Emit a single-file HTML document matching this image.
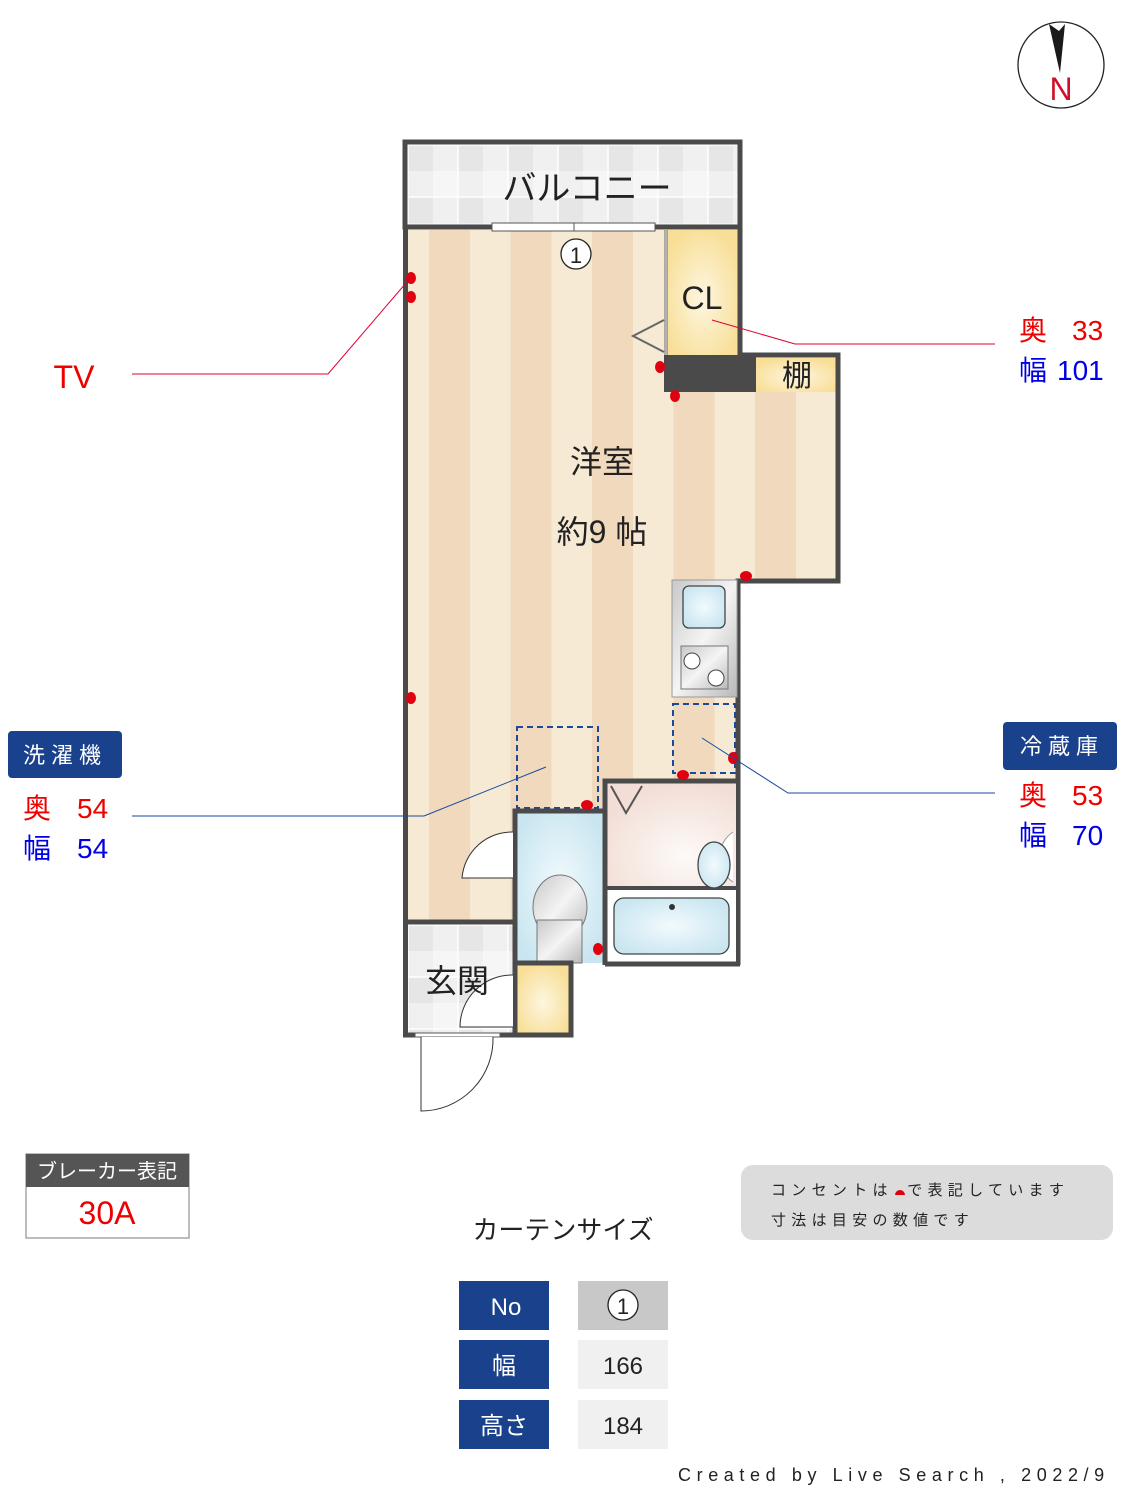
<!DOCTYPE html>
<html><head><meta charset="utf-8"><style>
html,body{margin:0;padding:0;background:#fff}
svg{display:block}
text{font-family:"Liberation Sans","Noto Sans CJK JP",sans-serif}
</style></head><body>
<svg width="1125" height="1500" viewBox="0 0 1125 1500" xmlns="http://www.w3.org/2000/svg">
<defs>
<pattern id="stripe" x="429" y="0" width="81.5" height="10" patternUnits="userSpaceOnUse">
<rect width="81.5" height="10" fill="#f6ead5"/><rect width="41" height="10" fill="#f0d9bd"/>
</pattern>
<pattern id="tile" x="408" y="145" width="50" height="52" patternUnits="userSpaceOnUse">
<rect width="50" height="52" fill="#f0f0f0"/>
<rect x="0" y="0" width="25" height="26" fill="#e6e6e6"/>
<rect x="25" y="26" width="25" height="26" fill="#f6f6f6"/>
<rect x="0" y="0" width="50" height="52" fill="none" stroke="#fff" stroke-width="1.5"/>
</pattern>
<radialGradient id="yel" cx="0.5" cy="0.55" r="0.6"><stop offset="0" stop-color="#fdf6e0"/><stop offset="1" stop-color="#f8de96"/></radialGradient>
<radialGradient id="blu" cx="0.5" cy="0.5" r="0.6"><stop offset="0" stop-color="#f2fafd"/><stop offset="1" stop-color="#c8e5f0"/></radialGradient>
<radialGradient id="pink" cx="0.6" cy="0.7" r="0.7"><stop offset="0" stop-color="#fdfaf8"/><stop offset="1" stop-color="#f2ded6"/></radialGradient>
<linearGradient id="steel" x1="0" y1="0" x2="1" y2="1"><stop offset="0" stop-color="#c8c8c8"/><stop offset="0.5" stop-color="#f4f4f4"/><stop offset="1" stop-color="#b8b8b8"/></linearGradient>
</defs>

<circle cx="1061" cy="65" r="43" fill="#fff" stroke="#222" stroke-width="1.3"/>
<path d="M1049 24 L1059 31 L1065 24 L1060 73 Z" fill="#1a1a1a"/>
<text x="1061" y="100" font-size="32" fill="#d0102a" text-anchor="middle">N</text>

<rect x="405" y="142" width="335" height="85" fill="url(#tile)" stroke="#4a4a4a" stroke-width="5"/>
<text x="587" y="200" font-size="34" fill="#222" text-anchor="middle">バルコニー</text>

<rect x="408" y="230" width="258" height="692" fill="url(#stripe)"/>
<rect x="666" y="392" width="170" height="188" fill="url(#stripe)"/>
<rect x="666" y="580" width="72" height="200" fill="url(#stripe)"/>
<rect x="667" y="230" width="71" height="125" fill="url(#yel)"/>
<line x1="666" y1="230" x2="666" y2="355" stroke="#666" stroke-width="3"/>
<line x1="666" y1="230" x2="666" y2="355" stroke="#fff" stroke-width="1"/>
<path d="M664 320 L633 336 L664 352" fill="none" stroke="#666" stroke-width="2"/>
<text x="702" y="309" font-size="32" fill="#222" text-anchor="middle">CL</text>
<rect x="664" y="355" width="92" height="37" fill="#4a4a4a"/>
<rect x="756" y="358" width="80" height="34" fill="url(#yel)"/>
<text x="797" y="386" font-size="30" fill="#222" text-anchor="middle">棚</text>
<path d="M405.5 227 L405.5 1035" stroke="#4a4a4a" stroke-width="5"/>
<path d="M740 227 L740 355 L838 355 L838 581 L738 581 L738 965" fill="none" stroke="#4a4a4a" stroke-width="5"/>
<rect x="492" y="223" width="163" height="8" fill="#fff" stroke="#555" stroke-width="1"/>
<line x1="574" y1="223" x2="574" y2="231" stroke="#555"/>
<circle cx="576" cy="254" r="15" fill="#fff" stroke="#222" stroke-width="1.3"/>
<text x="576" y="263" font-size="22" fill="#222" text-anchor="middle">1</text>

<text x="602" y="473" font-size="32" fill="#222" text-anchor="middle">洋室</text>
<text x="602" y="543" font-size="32" fill="#222" text-anchor="middle">約9 帖</text>

<rect x="672" y="580" width="65" height="117" fill="url(#steel)" stroke="#999" stroke-width="1"/>
<rect x="683" y="586" width="42" height="42" rx="6" fill="url(#blu)" stroke="#444" stroke-width="1.3"/>
<rect x="681" y="646" width="47" height="43" fill="url(#steel)" stroke="#777"/>
<circle cx="692" cy="661" r="8" fill="#fff" stroke="#444"/>
<circle cx="716" cy="678" r="8" fill="#fff" stroke="#444"/>

<rect x="673" y="704" width="62" height="69" fill="none" stroke="#1a4a9c" stroke-width="2" stroke-dasharray="6,4"/>
<rect x="517" y="727" width="81" height="81" fill="none" stroke="#1a4a9c" stroke-width="2" stroke-dasharray="6,4"/>

<rect x="516" y="811" width="88" height="152" fill="url(#blu)"/>
<path d="M515 963 L515 811 L605 811" fill="none" stroke="#4a4a4a" stroke-width="5"/>
<ellipse cx="560" cy="907" rx="27" ry="32" fill="url(#steel)" stroke="#777"/>
<rect x="537" y="920" width="45" height="43" fill="url(#steel)" stroke="#777"/>
<path d="M513 832 A50 50 0 0 0 462 878 L513 878" fill="#fff" stroke="#333" stroke-width="1"/>

<rect x="607" y="783" width="129" height="104" fill="url(#pink)"/>
<rect x="607" y="887" width="129" height="76" fill="#fff"/>
<path d="M605 965 L605 781 L740 781" fill="none" stroke="#4a4a4a" stroke-width="5"/>
<line x1="606" y1="888" x2="738" y2="888" stroke="#4a4a4a" stroke-width="4"/>
<path d="M611 786 L626 813 L642 786" fill="none" stroke="#555" stroke-width="2"/>
<rect x="614" y="898" width="115" height="56" rx="10" fill="url(#blu)" stroke="#444" stroke-width="1.3"/>
<circle cx="672" cy="907" r="3" fill="#333"/>
<path d="M733 832 A30 30 0 0 0 733 882" fill="#fff" stroke="#999"/>
<ellipse cx="714" cy="865" rx="16" ry="23" fill="url(#blu)" stroke="#444" stroke-width="1.3"/>
<line x1="605" y1="964" x2="740" y2="964" stroke="#4a4a4a" stroke-width="5"/>

<rect x="408" y="925" width="105" height="108" fill="url(#tile)"/>
<line x1="405" y1="922" x2="517" y2="922" stroke="#4a4a4a" stroke-width="5"/>
<rect x="517" y="965" width="52" height="68" fill="url(#yel)"/>
<path d="M515 920 L515 1035 M515 963 L571 963 L571 1035 L403 1035" fill="none" stroke="#4a4a4a" stroke-width="5"/>
<path d="M513 975 A52 52 0 0 0 460 1027 L513 1027" fill="#fff" stroke="#333"/>
<text x="457" y="992" font-size="32" fill="#222" text-anchor="middle">玄関</text>
<rect x="415" y="1033" width="85" height="4" fill="#fff" stroke="#555"/>
<path d="M421 1037 L421 1111 A72 72 0 0 0 493 1037" fill="#fff" stroke="#333"/>

<g fill="#e00010">
<ellipse cx="411" cy="278" rx="5" ry="6"/><ellipse cx="411" cy="297" rx="5" ry="6"/>
<ellipse cx="411" cy="698" rx="5" ry="6"/>
<ellipse cx="660" cy="367" rx="5" ry="6"/><ellipse cx="675" cy="396" rx="5" ry="6"/>
<ellipse cx="746" cy="576" rx="6" ry="5"/>
<ellipse cx="733" cy="758" rx="5" ry="6"/><ellipse cx="683" cy="775" rx="6" ry="5"/>
<ellipse cx="587" cy="805" rx="6" ry="5"/><ellipse cx="598" cy="949" rx="5" ry="6"/>
</g>

<polyline points="132,374 328,374 406,283" fill="none" stroke="#e00030" stroke-width="1"/>
<polyline points="712,320 795,344 995,344" fill="none" stroke="#e00030" stroke-width="1"/>
<polyline points="132,816 424,816 546,767" fill="none" stroke="#1a4a9c" stroke-width="1"/>
<polyline points="702,738 788,793 995,793" fill="none" stroke="#1a4a9c" stroke-width="1"/>

<text x="74" y="388" font-size="32" fill="#e00" text-anchor="middle">TV</text>
<text x="1019" y="340" font-size="28" fill="#e00">奥</text><text x="1072" y="340" font-size="28" fill="#e00">33</text>
<text x="1019" y="380" font-size="28" fill="#0000e6">幅</text><text x="1057" y="380" font-size="28" fill="#0000e6">101</text>
<rect x="8" y="731" width="114" height="47" rx="4" fill="#1a428c"/>
<text x="65" y="763" font-size="22" fill="#fff" text-anchor="middle" letter-spacing="6">洗濯機</text>
<text x="23" y="818" font-size="28" fill="#e00">奥</text><text x="77" y="818" font-size="28" fill="#e00">54</text>
<text x="23" y="858" font-size="28" fill="#0000e6">幅</text><text x="77" y="858" font-size="28" fill="#0000e6">54</text>
<rect x="1003" y="722" width="114" height="48" rx="4" fill="#1a428c"/>
<text x="1062" y="754" font-size="22" fill="#fff" text-anchor="middle" letter-spacing="6">冷蔵庫</text>
<text x="1019" y="805" font-size="28" fill="#e00">奥</text><text x="1072" y="805" font-size="28" fill="#e00">53</text>
<text x="1019" y="845" font-size="28" fill="#0000e6">幅</text><text x="1072" y="845" font-size="28" fill="#0000e6">70</text>

<rect x="26" y="1154" width="163" height="84" fill="#fff" stroke="#999" stroke-width="1.3"/>
<rect x="26" y="1154" width="163" height="33" fill="#555"/>
<text x="107" y="1178" font-size="20" fill="#fff" text-anchor="middle">ブレーカー表記</text>
<text x="107" y="1224" font-size="32" fill="#e00" text-anchor="middle">30A</text>

<rect x="741" y="1165" width="372" height="75" rx="12" fill="#dcdcdc"/>
<text x="771" y="1195" font-size="15" fill="#222" letter-spacing="5.3">コンセントは<tspan fill="#dcdcdc">■</tspan>で表記しています</text>
<path d="M895 1195 A5 5 0 0 1 905 1195 Z" fill="#e00010"/>
<text x="771" y="1225" font-size="15" fill="#222" letter-spacing="5.3">寸法は目安の数値です</text>

<text x="563" y="1239" font-size="26" fill="#222" text-anchor="middle">カーテンサイズ</text>
<rect x="459" y="1281" width="90" height="49" fill="#1a428c"/>
<rect x="459" y="1340" width="90" height="49" fill="#1a428c"/>
<rect x="459" y="1400" width="90" height="49" fill="#1a428c"/>
<rect x="578" y="1281" width="90" height="49" fill="#c8c8c8"/>
<rect x="578" y="1340" width="90" height="49" fill="#f0f0f0"/>
<rect x="578" y="1400" width="90" height="49" fill="#f0f0f0"/>
<text x="506" y="1315" font-size="24" fill="#fff" text-anchor="middle">No</text>
<text x="504" y="1374" font-size="24" fill="#fff" text-anchor="middle">幅</text>
<text x="504" y="1434" font-size="24" fill="#fff" text-anchor="middle">高さ</text>
<circle cx="623" cy="1305" r="15" fill="#fff" stroke="#222" stroke-width="1.3"/>
<text x="623" y="1314" font-size="22" fill="#222" text-anchor="middle">1</text>
<text x="623" y="1374" font-size="24" fill="#222" text-anchor="middle">166</text>
<text x="623" y="1434" font-size="24" fill="#222" text-anchor="middle">184</text>

<text x="678" y="1481" font-size="18" fill="#222" letter-spacing="5.6">Created by Live Search , 2022/9</text>
</svg>
</body></html>
